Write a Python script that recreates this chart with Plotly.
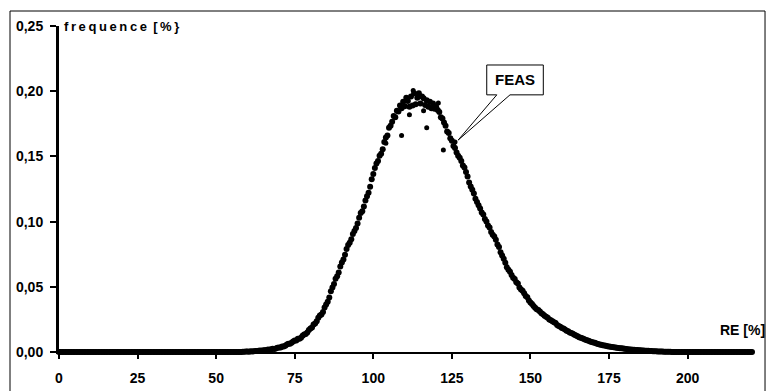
import numpy as np
import plotly.graph_objects as go

# RE [%] grid (half-unit steps) and read-off frequencies [%]
re_start, re_step = 0.0, 0.5
freq_left_zero = [0.0] * 116          # RE 0 .. 57.5
freq_curve = [
    0.0000, 0.0002, 0.0001, 0.0003, 0.0003, 0.0002, 0.0005, 0.0004, 0.0006, 0.0008,
    0.0007, 0.0010, 0.0011, 0.0009, 0.0013, 0.0014, 0.0015, 0.0019, 0.0017, 0.0022,
    0.0024, 0.0023, 0.0026, 0.0032, 0.0035, 0.0034, 0.0042, 0.0043, 0.0048, 0.0058,
    0.0063, 0.0064, 0.0070, 0.0081, 0.0088, 0.0089, 0.0101, 0.0102, 0.0109, 0.0125,
    0.0134, 0.0138, 0.0150, 0.0168, 0.0180, 0.0188, 0.0210, 0.0219, 0.0236, 0.0262,
    0.0279, 0.0288, 0.0306, 0.0341, 0.0364, 0.0385, 0.0418, 0.0466, 0.0495, 0.0522,
    0.0561, 0.0580, 0.0610, 0.0655, 0.0686, 0.0710, 0.0745, 0.0790, 0.0820, 0.0838,
    0.0865, 0.0905, 0.0928, 0.0950, 0.0985, 0.1030, 0.1065, 0.1080, 0.1115, 0.1162,
    0.1195, 0.1222, 0.1268, 0.1325, 0.1365, 0.1412, 0.1445, 0.1465, 0.1505, 0.1520,
    0.1555, 0.1610, 0.1645, 0.1660, 0.1720, 0.1735, 0.1765, 0.1810, 0.1800, 0.1850,
    0.1845, 0.1890, 0.1870, 0.1920, 0.1885, 0.1950, 0.1925, 0.1880, 0.1960, 0.1890,
    0.1985, 0.1900, 0.1950, 0.1985, 0.1905, 0.1960, 0.1945, 0.1895, 0.1930, 0.1880,
    0.1920, 0.1870, 0.1905, 0.1865, 0.1880, 0.1855, 0.1840, 0.1800, 0.1790, 0.1760,
    0.1735, 0.1690, 0.1680, 0.1640, 0.1620, 0.1580, 0.1565, 0.1530, 0.1505, 0.1490,
    0.1465, 0.1430, 0.1415, 0.1380, 0.1345, 0.1300, 0.1270, 0.1245, 0.1215, 0.1175,
    0.1150, 0.1125, 0.1100, 0.1070, 0.1055, 0.1020, 0.1000, 0.0970, 0.0955, 0.0920,
    0.0900, 0.0885, 0.0860, 0.0825, 0.0805, 0.0765, 0.0740, 0.0715, 0.0685, 0.0650,
    0.0630, 0.0615, 0.0590, 0.0570, 0.0560, 0.0535, 0.0525, 0.0495, 0.0480, 0.0470,
    0.0450, 0.0430, 0.0420, 0.0395, 0.0380, 0.0368, 0.0352, 0.0340, 0.0328, 0.0322,
    0.0310, 0.0298, 0.0290, 0.0278, 0.0270, 0.0262, 0.0250, 0.0244, 0.0235, 0.0228,
    0.0222, 0.0208, 0.0200, 0.0194, 0.0185, 0.0180, 0.0172, 0.0163, 0.0160, 0.0150,
    0.0145, 0.0140, 0.0132, 0.0126, 0.0121, 0.0114, 0.0110, 0.0106, 0.0100, 0.0094,
    0.0090, 0.0086, 0.0080, 0.0077, 0.0072, 0.0070, 0.0065, 0.0061, 0.0058, 0.0056,
    0.0052, 0.0050, 0.0047, 0.0044, 0.0042, 0.0041, 0.0038, 0.0036, 0.0035, 0.0032,
    0.0031, 0.0029, 0.0028, 0.0026, 0.0025, 0.0023, 0.0022, 0.0020, 0.0019, 0.0018,
    0.0017, 0.0016, 0.0015, 0.0014, 0.0013, 0.0012, 0.0011, 0.0010, 0.0009, 0.0009,
    0.0008, 0.0007, 0.0006, 0.0005, 0.0005, 0.0004, 0.0004, 0.0003, 0.0003, 0.0002,
    0.0002, 0.0002, 0.0001, 0.0001, 0.0000,
]
freq_right_zero = [0.0] * 51          # RE 195.5 .. 220.5
freq = freq_left_zero + freq_curve + freq_right_zero
re_vals = re_start + re_step * np.arange(len(freq))

# a few stray points near the peak
stray_re = [117.0, 122.3, 109.0, 120.7, 112.7, 111.5, 116.0, 104.0, 126.0]
stray_freq = [0.172, 0.155, 0.166, 0.191, 0.2005, 0.1820, 0.1850, 0.1600, 0.1610]

x_ticks = [0, 25, 50, 75, 100, 125, 150, 175, 200]
y_ticks = [0.00, 0.05, 0.10, 0.15, 0.20, 0.25]
y_tick_labels = ["0,00", "0,05", "0,10", "0,15", "0,20", "0,25"]

# callout (FEAS) geometry in data units
feas_tip = (127.0, 0.1625)
feas_box = (136.1, 154.1, 0.1972, 0.2201)
feas_wedge = (139.3, 143.5)

TS = "\u2009"  # thin space used to mimic the wide letter spacing of the title

fig = go.Figure()
fig.add_trace(go.Scatter(x=re_vals, y=freq, mode="markers",
                         marker=dict(color="black", size=6),
                         cliponaxis=False, showlegend=False))
fig.add_trace(go.Scatter(x=stray_re, y=stray_freq, mode="markers",
                         marker=dict(color="black", size=5),
                         cliponaxis=False, showlegend=False))

bx0, bx1, by0, by1 = feas_box
w0, w1 = feas_wedge
tx, ty = feas_tip
path = (f"M {bx0},{by0} L {w0},{by0} L {tx},{ty} L {w1},{by0} L {bx1},{by0} "
        f"L {bx1},{by1} L {bx0},{by1} Z")
fig.add_shape(type="path", path=path, xref="x", yref="y",
              line=dict(color="black", width=1), fillcolor="white", layer="above")
fig.add_annotation(x=(bx0 + bx1) / 2, y=(by0 + by1) / 2, xref="x", yref="y",
                   text="<b>FEAS</b>", showarrow=False,
                   font=dict(family="Liberation Sans", size=15, color="black"))

# figure border
fig.add_shape(type="rect", xref="paper", yref="paper",
              x0=-0.0707, x1=1.0188, y0=-0.2, y1=1.046,
              line=dict(color="black", width=1), fillcolor="rgba(0,0,0,0)")

title_txt = TS.join("frequence") + TS + " " + TS.join("[%}")
fig.add_annotation(x=0.0045, y=1.0, xref="paper", yref="paper",
                   xanchor="left", yanchor="middle",
                   text="<b>" + title_txt + "</b>", showarrow=False,
                   font=dict(family="Liberation Sans", size=13, color="black"))
fig.add_annotation(x=0.951, y=0.069, xref="paper", yref="paper",
                   xanchor="left", yanchor="middle",
                   text="<b>RE [%]</b>", showarrow=False,
                   font=dict(family="Liberation Sans", size=14, color="black"))

fig.update_layout(
    width=766, height=391,
    margin=dict(l=59, r=14, t=26, b=38.5),
    paper_bgcolor="white", plot_bgcolor="white",
    showlegend=False,
    xaxis=dict(range=[0, 220.5], tickvals=x_ticks, ticktext=[str(v) for v in x_ticks],
               automargin=False,
               showgrid=False, zeroline=False, showline=True, linecolor="black",
               linewidth=2, ticks="outside", ticklen=5, tickwidth=2, tickcolor="black",
               ticklabelstandoff=7,
               tickfont=dict(family="Liberation Sans", size=14, color="black", weight="bold")),
    yaxis=dict(range=[0, 0.25], tickvals=y_ticks, ticktext=y_tick_labels,
               automargin=False,
               showgrid=False, zeroline=False, showline=True, linecolor="black",
               linewidth=3, ticks="outside", ticklen=6, tickwidth=2, tickcolor="black",
               ticklabelstandoff=4,
               tickfont=dict(family="Liberation Sans", size=14, color="black", weight="bold")),
)

fig.write_html("out.html")
